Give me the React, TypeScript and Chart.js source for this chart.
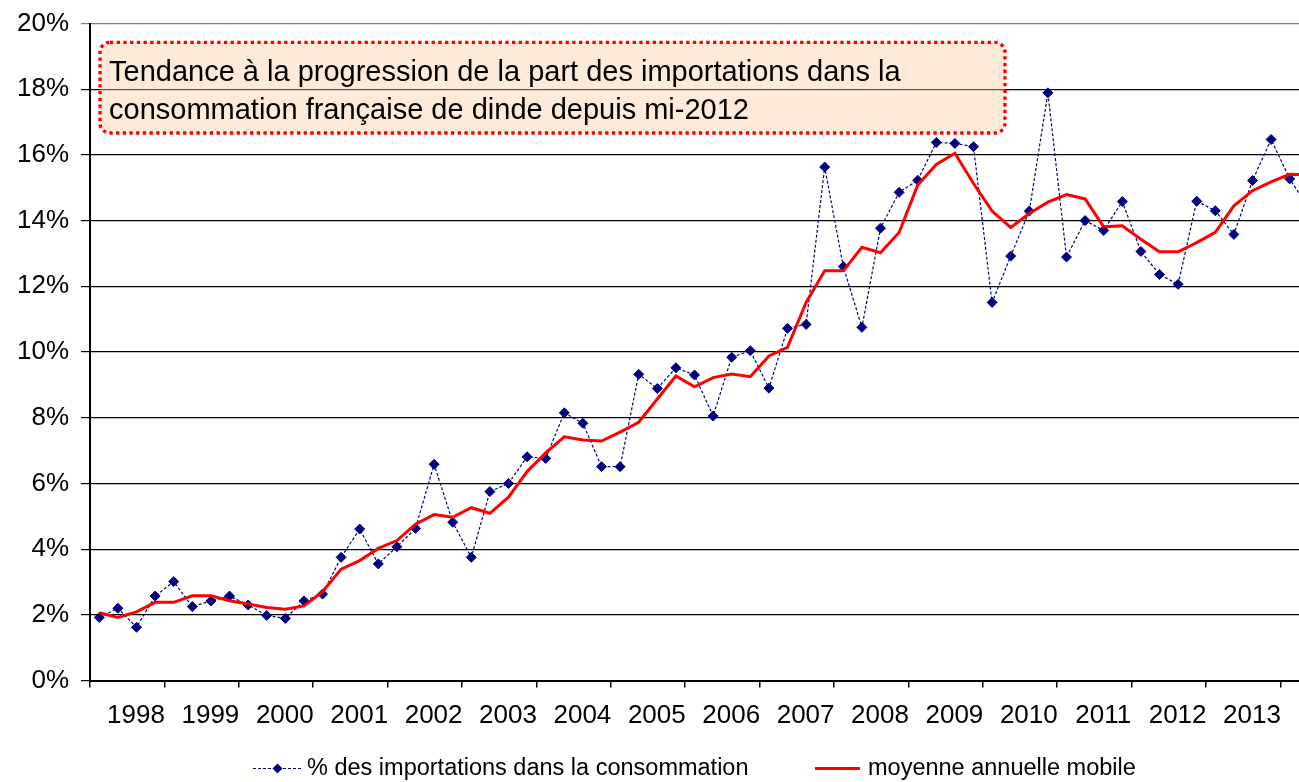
import React, { useEffect, useRef } from 'react';
import { Chart, registerables } from 'chart.js';

Chart.register(...registerables);

const FONT = '"Liberation Sans", Arial, sans-serif';

// Year labels shown on the x axis (one per year, 4 quarters each)
const yearLabels: string[] = [
  '1998', '1999', '2000', '2001', '2002', '2003', '2004', '2005',
  '2006', '2007', '2008', '2009', '2010', '2011', '2012', '2013',
];
const quarterNames: string[] = ['T1', 'T2', 'T3', 'T4'];
// Quarterly categories (the chart continues into 2014, clipped at the right edge)
const quarters: string[] = [
  ...yearLabels.flatMap((y) => quarterNames.map((q) => `${q} ${y}`)),
  'T1 2014',
  'T2 2014',
];

// % des importations dans la consommation (quarterly)
const importShare: number[] = [
  1.92, 2.20, 1.62, 2.57, 3.01, 2.25, 2.42, 2.57,
  2.30, 1.98, 1.89, 2.42, 2.63, 3.75, 4.61, 3.55,
  4.07, 4.63, 6.58, 4.82, 3.75, 5.75, 6.00, 6.81,
  6.76, 8.15, 7.83, 6.51, 6.51, 9.32, 8.89, 9.52,
  9.30, 8.05, 9.84, 10.04, 8.90, 10.72, 10.84, 15.63,
  12.60, 10.75, 13.77, 14.86, 15.23, 16.38, 16.35, 16.25,
  11.51, 12.92, 14.29, 17.89, 12.89, 14.00, 13.70, 14.58,
  13.06, 12.36, 12.06, 14.59, 14.30, 13.58, 15.22, 16.47,
  15.27, 14.40,
];

// moyenne annuelle mobile
const movingAverage: number[] = [
  2.06, 1.92, 2.09, 2.38, 2.38, 2.58, 2.58, 2.43,
  2.33, 2.22, 2.17, 2.27, 2.70, 3.39, 3.65, 4.02,
  4.26, 4.76, 5.05, 4.97, 5.26, 5.09, 5.58, 6.36,
  6.93, 7.42, 7.32, 7.29, 7.56, 7.86, 8.57, 9.27,
  8.94, 9.22, 9.33, 9.25, 9.88, 10.14, 11.51, 12.47,
  12.47, 13.19, 13.02, 13.64, 15.08, 15.71, 16.05, 15.13,
  14.29, 13.79, 14.22, 14.56, 14.79, 14.66, 13.81, 13.84,
  13.43, 13.05, 13.05, 13.33, 13.64, 14.45, 14.91, 15.18,
  15.41, 15.40,
];

const yTicks: number[] = [0, 2, 4, 6, 8, 10, 12, 14, 16, 18, 20];

const seriesLabels: string[] = [
  '% des importations dans la consommation',
  'moyenne annuelle mobile',
];

const annotationLines: string[] = [
  'Tendance à la progression de la part des importations dans la',
  'consommation française de dinde depuis mi-2012',
];

const annotationPlugin = {
  id: 'annotationBox',
  beforeDatasetsDraw(chart: any) {
    const { ctx } = chart;
    ctx.save();
    const x = 100, y = 42.3, w = 905, h = 90.7, r = 10;
    ctx.beginPath();
    ctx.roundRect(x, y, w, h, r);
    ctx.fillStyle = 'rgba(250, 205, 165, 0.42)';
    ctx.fill();
    ctx.setLineDash([3.3, 3.4]);
    ctx.lineWidth = 3.3;
    ctx.strokeStyle = '#ff0000';
    ctx.stroke();
    ctx.setLineDash([]);
    ctx.fillStyle = '#000';
    ctx.font = `29px ${FONT}`;
    ctx.textBaseline = 'alphabetic';
    ctx.textAlign = 'left';
    ctx.fillText(annotationLines[0], 109, 81);
    ctx.fillText(annotationLines[1], 109, 119);
    ctx.restore();
  },
};

const legendPlugin = {
  id: 'customLegend',
  afterDraw(chart: any) {
    const { ctx } = chart;
    const ds = chart.data.datasets;
    const yc = 768.5;
    ctx.save();
    // item 1
    ctx.strokeStyle = ds[0].borderColor;
    ctx.lineWidth = 1.2;
    ctx.setLineDash([3, 2]);
    ctx.beginPath();
    ctx.moveTo(253, yc);
    ctx.lineTo(302, yc);
    ctx.stroke();
    ctx.setLineDash([]);
    ctx.fillStyle = ds[0].pointBackgroundColor;
    const cx = 277.5, rr = 5;
    ctx.beginPath();
    ctx.moveTo(cx - rr, yc);
    ctx.lineTo(cx, yc - rr);
    ctx.lineTo(cx + rr, yc);
    ctx.lineTo(cx, yc + rr);
    ctx.closePath();
    ctx.fill();
    ctx.fillStyle = '#000';
    ctx.font = `23.5px ${FONT}`;
    ctx.textBaseline = 'middle';
    ctx.textAlign = 'left';
    ctx.fillText(ds[0].label, 307, yc);
    // item 2
    ctx.strokeStyle = ds[1].borderColor;
    ctx.lineWidth = 3;
    ctx.beginPath();
    ctx.moveTo(815, yc);
    ctx.lineTo(860, yc);
    ctx.stroke();
    ctx.fillText(ds[1].label, 868, yc);
    ctx.restore();
  },
};

export default function App() {
  const canvasRef = useRef<HTMLCanvasElement | null>(null);

  useEffect(() => {
    if (!canvasRef.current) return;
    const yearTickValues = yearLabels.map((_, k) => k * 4 - 0.5).concat([yearLabels.length * 4 - 0.5]);
    const chart = new Chart(canvasRef.current, {
      type: 'line',
      data: {
        labels: quarters,
        datasets: [
          {
            label: seriesLabels[0],
            data: importShare.map((v, i) => ({ x: i, y: v })),
            borderColor: '#000080',
            backgroundColor: '#000080',
            borderWidth: 1.2,
            borderDash: [3, 2],
            pointStyle: 'rectRot',
            pointRadius: 5,
            pointBackgroundColor: '#000080',
            pointBorderColor: '#000080',
            pointBorderWidth: 1,
            tension: 0,
            order: 2,
          },
          {
            label: seriesLabels[1],
            data: movingAverage.map((v, i) => ({ x: i, y: v })),
            borderColor: '#ff0000',
            backgroundColor: '#ff0000',
            borderWidth: 3,
            pointRadius: 0,
            tension: 0,
            order: 1,
          },
        ],
      },
      options: {
        animation: false,
        responsive: false,
        maintainAspectRatio: false,
        layout: { autoPadding: false, padding: { top: 23.5, bottom: 41.5, left: 0, right: 0 } },
        plugins: {
          legend: { display: false },
          tooltip: { enabled: false },
        },
        scales: {
          x: {
            type: 'linear',
            min: -0.5,
            max: 64.5,
            afterBuildTicks: (scale: any) => {
              scale.ticks = yearTickValues.map((v) => ({ value: v }));
            },
            afterFit: (scale: any) => {
              scale.height = 60;
              scale.paddingLeft = 0;
              scale.paddingRight = 0;
            },
            ticks: {
              autoSkip: false,
              maxRotation: 0,
              minRotation: 0,
              labelOffset: 46,
              padding: 13,
              color: '#000',
              font: { family: FONT, size: 26 },
              callback: (_v: any, index: number) => yearLabels[index] ?? '',
            },
            grid: {
              drawOnChartArea: false,
              drawTicks: true,
              tickLength: 7,
              color: '#000',
              lineWidth: 1.5,
            },
            border: { display: true, color: '#000', width: 2 },
          },
          y: {
            min: 0,
            max: 20,
            afterBuildTicks: (scale: any) => {
              scale.ticks = yTicks.map((v) => ({ value: v }));
            },
            afterFit: (scale: any) => {
              scale.width = 90;
              scale.paddingTop = 0;
              scale.paddingBottom = 0;
            },
            ticks: {
              padding: 12,
              color: '#000',
              font: { family: FONT, size: 26 },
              callback: (v: any) => `${v}%`,
            },
            grid: {
              color: (ctx: any) => (ctx.tick && ctx.tick.value === 20 ? '#808080' : '#000'),
              lineWidth: 1.2,
              tickLength: 9,
            },
            border: { display: true, color: '#000', width: 2 },
          },
        },
      },
      plugins: [annotationPlugin, legendPlugin],
    });
    return () => chart.destroy();
  }, []);

  return (
    <div style={{ position: 'absolute', left: 0, top: 0, width: 1299, height: 782, background: '#fff' }}>
      <canvas ref={canvasRef} width={1299} height={782} style={{ display: 'block' }} />
    </div>
  );
}
